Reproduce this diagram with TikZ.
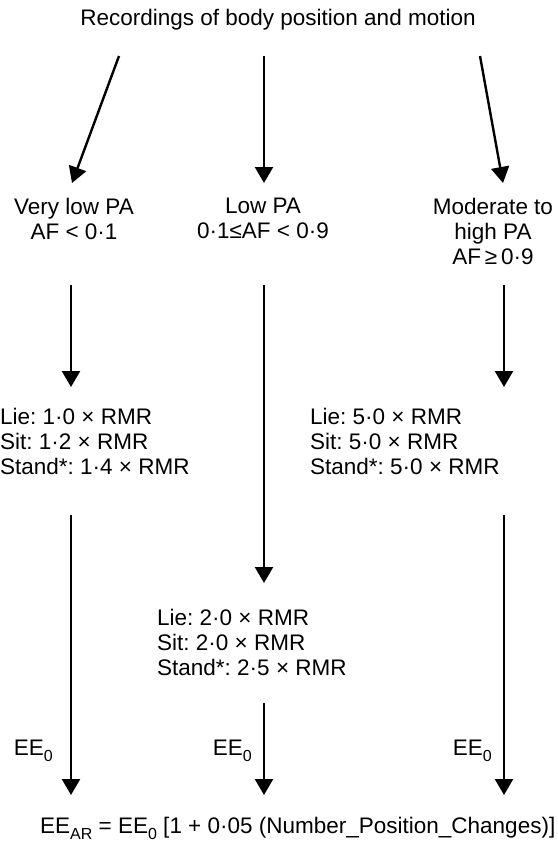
\documentclass[tikz,border=0pt]{standalone}
\usepackage{fontspec}
\setmainfont{Liberation Sans}
\usetikzlibrary{arrows.meta}
\frenchspacing

\newcommand{\eesub}[1]{EE\raisebox{-0.3em}{\fontsize{16}{16}\selectfont #1}}

\tikzset{
	txt/.style={inner sep=0pt, font=\fontsize{22.5}{25}\selectfont},
	flow/.style={line width=2.4pt, -{Triangle[length=16pt,width=18pt]}}
}

\begin{document}
\begin{tikzpicture}[x=1pt,y=-1pt]
		\useasboundingbox (0,0) rectangle (557,846);
		\node[txt, anchor=base] (rec) at (278,25) {Recordings of body position and motion};

		% activity levels
		\node[txt, align=center, anchor=north] (vlow) at (74,198) {Very low PA\\AF < 0·1};
		\node[txt, align=center, anchor=north] (low) at (263,198) {Low PA\\0·1≤AF < 0·9};
		\node[txt, align=center, anchor=north] (mod) at (493,198) {Moderate to\\high PA\\AF\,≥\,0·9};

		% energy factors
		\node[txt, align=left, anchor=north west] (rmrA) at (0,408) {Lie: 1·0 × RMR\\Sit: 1·2 × RMR\\Stand*: 1·4 × RMR};
		\node[txt, align=left, anchor=north west] (rmrC) at (310,408) {Lie: 5·0 × RMR\\Sit: 5·0 × RMR\\Stand*: 5·0 × RMR};
		\node[txt, align=left, anchor=north west] (rmrB) at (157,609) {Lie: 2·0 × RMR\\Sit: 2·0 × RMR\\Stand*: 2·5 × RMR};

		\node[txt, anchor=base east] (eeA) at (53,755) {\eesub{0}};
		\node[txt, anchor=base east] (eeB) at (252,755) {\eesub{0}};
		\node[txt, anchor=base east] (eeC) at (492,755) {\eesub{0}};

		\node[txt, anchor=base west] (ear) at (40,833) {\eesub{AR} = \eesub{0} [1 + 0·05 (Number\_Position\_Changes)]};

		% arrow ends
		\coordinate (a1) at (119,56);  \coordinate (b1) at (72,183);
		\coordinate (a2) at (264,56);  \coordinate (b2) at (264,183);
		\coordinate (a3) at (480,56);  \coordinate (b3) at (503,183);
		\coordinate (c1) at (71,285);  \coordinate (d1) at (71,387);
		\coordinate (c2) at (264,285); \coordinate (d2) at (264,583);
		\coordinate (c3) at (504,285); \coordinate (d3) at (504,387);
		\coordinate (e1) at (71,515);  \coordinate (f1) at (71,795);
		\coordinate (e2) at (264,703); \coordinate (f2) at (264,795);
		\coordinate (e3) at (504,515); \coordinate (f3) at (504,795);

		\draw[flow] (a1)--(b1);
		\draw[flow] (a2)--(b2);
		\draw[flow] (a3)--(b3);
		\draw[flow] (c1)--(d1);
		\draw[flow] (c2)--(d2);
		\draw[flow] (c3)--(d3);
		\draw[flow] (e1)--(f1);
		\draw[flow] (e2)--(f2);
		\draw[flow] (e3)--(f3);
	\end{tikzpicture}
\end{document}
